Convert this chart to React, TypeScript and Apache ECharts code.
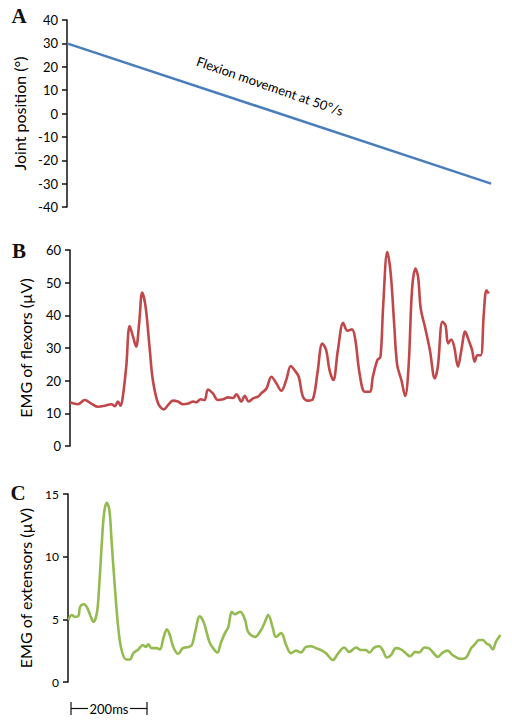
import React, { useEffect, useRef } from "react";
import * as echarts from "echarts";

// Panel A: joint position (deg) vs time (ms)
const jointTime = [0, 1116];
const jointDeg = [30, -30];

// Panel B: EMG of flexors (µV) vs time (ms)
const flexTime = [
  0, 21, 39, 56, 74, 91, 109, 118, 126, 133,
  139, 148, 157, 166, 174, 182, 190, 199, 210, 218,
  232, 247, 258, 271, 284, 297, 311, 324, 332, 344,
  354, 363, 376, 389, 403, 416, 429, 438, 451, 460,
  470, 482, 495, 503, 517, 530, 543, 556, 569, 581,
  591, 602, 613, 626, 639, 651, 664, 674, 683, 693,
  705, 719, 730, 742, 751, 762, 776, 789, 797, 809,
  817, 824, 835, 844, 853, 861, 872, 882, 891, 900,
  909, 916, 923, 935, 947, 960, 968, 980, 988, 995,
  1003, 1011, 1021, 1030, 1040, 1049, 1058, 1065, 1072, 1081,
  1089, 1096, 1102,
];
const flexEMG = [
  13.4, 12.8, 14.1, 13.0, 12.0, 12.3, 12.8, 12.2, 13.6, 12.3,
  15.1, 24.3, 36.7, 33.4, 30.4, 37.6, 47.0, 42.6, 29.4, 20.2,
  13.0, 11.2, 12.5, 13.9, 13.6, 12.8, 13.0, 13.6, 13.4, 14.3,
  14.0, 17.3, 16.1, 14.1, 14.3, 14.9, 14.7, 15.8, 13.6, 15.4,
  13.6, 14.6, 15.1, 16.1, 17.6, 21.2, 19.2, 16.9, 20.2, 24.5,
  23.2, 21.2, 15.1, 13.9, 14.3, 22.2, 31.4, 29.4, 23.2, 20.2,
  29.4, 37.7, 35.3, 35.7, 32.4, 22.2, 16.6, 16.6, 21.2, 26.3,
  27.3, 42.6, 59.4, 52.8, 37.5, 24.8, 20.2, 15.3, 24.3, 47.7,
  54.3, 51.8, 42.1, 36.0, 29.4, 20.7, 24.3, 38.0, 37.0, 31.4,
  32.6, 30.4, 24.3, 29.4, 35.0, 32.4, 29.4, 25.8, 27.8, 27.8,
  40.6, 47.7, 46.7,
];

// Panel C: EMG of extensors (µV) vs time (ms)
const extTime = [
  1, 10, 18, 27, 32, 42, 51, 60, 67, 76,
  82, 89, 95, 102, 109, 115, 124, 132, 141, 153,
  163, 172, 185, 197, 205, 211, 220, 233, 242, 251,
  260, 268, 277, 290, 302, 317, 326, 334, 347, 358,
  372, 382, 393, 402, 413, 422, 431, 439, 453, 466,
  474, 492, 508, 517, 527, 539, 547, 561, 574, 587,
  600, 613, 626, 639, 653, 666, 679, 697, 710, 727,
  740, 758, 771, 784, 793, 806, 819, 828, 839, 850,
  863, 876, 889, 900, 914, 924, 938, 949, 961, 973,
  986, 999, 1012, 1026, 1039, 1049, 1061, 1069, 1082, 1091,
  1102, 1109, 1118, 1126, 1138,
];
const extEMG = [
  4.95, 5.35, 5.2, 5.25, 6.0, 6.2, 5.9, 5.2, 4.8, 5.5,
  7.6, 11.1, 13.5, 14.3, 13.7, 11.1, 7.3, 4.4, 2.55, 1.8,
  1.8, 2.3, 2.6, 2.95, 2.8, 3.0, 2.7, 2.7, 2.6, 3.5,
  4.2, 3.75, 2.8, 2.25, 2.7, 2.8, 2.95, 3.9, 5.25, 4.7,
  3.2, 2.7, 2.35, 3.1, 3.9, 4.4, 5.6, 5.4, 5.6, 4.95,
  4.0, 3.6, 4.15, 4.7, 5.35, 4.3, 3.6, 3.9, 2.95, 2.3,
  2.5, 2.35, 2.8, 2.85, 2.7, 2.55, 2.3, 1.75, 2.25, 2.75,
  2.4, 2.75, 2.55, 2.55, 2.35, 2.75, 2.85, 2.55, 1.95, 2.15,
  2.7, 2.6, 2.3, 2.05, 2.4, 2.35, 2.75, 2.7, 2.35, 2.0,
  2.35, 2.5, 2.15, 1.9, 1.85, 2.0, 2.7, 2.95, 3.35, 3.35,
  3.05, 2.95, 2.6, 3.2, 3.75,
];

const timeMax = 1140;
const annotation = "Flexion movement at 50°/s";
const scaleLabel = "200ms";
const panelLetters = ["A", "B", "C"];

const pairs = (xs: number[], ys: number[]) => xs.map((x, i) => [x, ys[i]]);

export default function App() {
  const ref = useRef<HTMLDivElement>(null);
  useEffect(() => {
    const chart = echarts.init(ref.current!, null, { renderer: "svg" });
    const font = "Lato, 'Open Sans', sans-serif";
    const axisColor = "#111";
    const yAxis = (gridIndex: number, min: number, max: number, interval: number, name: string, nameGap: number, labelSize: number) => ({
      type: "value",
      gridIndex,
      min,
      max,
      interval,
      name,
      nameLocation: "middle",
      nameRotate: 90,
      nameGap,
      nameTextStyle: { fontFamily: font, fontSize: 16, color: "#000" },
      axisLine: { show: true, lineStyle: { color: axisColor, width: 1.5 } },
      axisTick: { show: true, length: 5, lineStyle: { color: axisColor, width: 1.5 } },
      axisLabel: { fontFamily: font, fontSize: labelSize, color: "#000", margin: 9 },
      splitLine: { show: false },
    });
    const xAxis = (gridIndex: number) => ({
      type: "value",
      gridIndex,
      min: 0,
      max: timeMax,
      show: false,
    });
    const gridW = timeMax * 0.38;
    chart.setOption({
      animation: false,
      backgroundColor: "#fff",
      grid: [
        { left: 67, top: 20, width: gridW, height: 187 },
        { left: 70, top: 250, width: gridW, height: 196 },
        { left: 68, top: 494, width: gridW, height: 188 },
      ],
      xAxis: [xAxis(0), xAxis(1), xAxis(2)],
      yAxis: [
        yAxis(0, -40, 40, 10, "Joint position (°)", 40, 13),
        yAxis(1, 0, 60, 10, "EMG of flexors (µV)", 37, 13),
        yAxis(2, 0, 15, 5, "EMG of extensors (µV)", 35, 12),
      ],
      series: [
        {
          type: "line",
          xAxisIndex: 0,
          yAxisIndex: 0,
          data: pairs(jointTime, jointDeg),
          showSymbol: false,
          lineStyle: { color: "#4a7ebb", width: 2.6 },
        },
        {
          type: "line",
          xAxisIndex: 1,
          yAxisIndex: 1,
          data: pairs(flexTime, flexEMG),
          showSymbol: false,
          smooth: 0.35,
          lineStyle: { color: "#c0474a", width: 2.6 },
        },
        {
          type: "line",
          xAxisIndex: 2,
          yAxisIndex: 2,
          data: pairs(extTime, extEMG),
          showSymbol: false,
          smooth: 0.35,
          lineStyle: { color: "#94bb4f", width: 2.6 },
        },
      ],
      graphic: [
        { type: "text", x: 19, y: 16, style: { text: panelLetters[0], font: "bold 21px 'Liberation Serif', serif", fill: "#111", textAlign: "center", textVerticalAlign: "middle" } },
        { type: "text", x: 19, y: 251, style: { text: panelLetters[1], font: "bold 21px 'Liberation Serif', serif", fill: "#111", textAlign: "center", textVerticalAlign: "middle" } },
        { type: "text", x: 18, y: 493, style: { text: panelLetters[2], font: "bold 21px 'Liberation Serif', serif", fill: "#111", textAlign: "center", textVerticalAlign: "middle" } },
        {
          type: "text",
          x: 270,
          y: 86,
          rotation: -0.335,
          style: { text: annotation, font: "13px Lato, 'Open Sans', sans-serif", fill: "#000", textAlign: "center", textVerticalAlign: "middle" },
        },
        { type: "line", shape: { x1: 71, y1: 702, x2: 71, y2: 715 }, style: { stroke: axisColor, lineWidth: 1.2 } },
        { type: "line", shape: { x1: 71, y1: 708.5, x2: 88, y2: 708.5 }, style: { stroke: axisColor, lineWidth: 1.2 } },
        { type: "text", x: 109, y: 708.5, style: { text: scaleLabel, font: "13px Lato, 'Open Sans', sans-serif", fill: "#000", textAlign: "center", textVerticalAlign: "middle" } },
        { type: "line", shape: { x1: 130, y1: 708.5, x2: 147, y2: 708.5 }, style: { stroke: axisColor, lineWidth: 1.2 } },
        { type: "line", shape: { x1: 147, y1: 702, x2: 147, y2: 715 }, style: { stroke: axisColor, lineWidth: 1.2 } },
      ],
    });
    return () => chart.dispose();
  }, []);
  return (
    <div
      ref={ref}
      style={{ position: "fixed", left: 0, top: 0, width: 512, height: 725, background: "#fff" }}
    />
  );
}
